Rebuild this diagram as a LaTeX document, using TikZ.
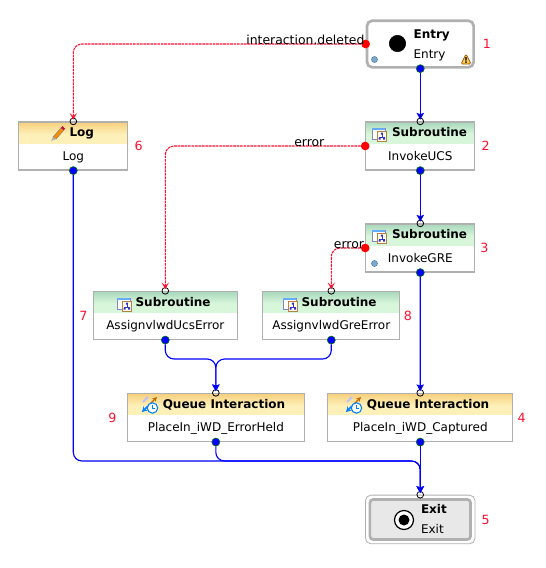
\documentclass[tikz,border=0pt]{standalone}
\usepackage{fontspec}
\setmainfont{DejaVu Sans}
\usepackage{xcolor}
\usetikzlibrary{positioning, arrows.meta}
\definecolor{boxgray}{HTML}{B0B0B0}
\definecolor{flowblue}{HTML}{0000FF}
\definecolor{errred}{HTML}{FF1030}
\definecolor{subtop}{HTML}{A8D8BC}
\definecolor{subbot}{HTML}{D8F6DA}
\definecolor{qtop}{HTML}{F6CF7C}
\definecolor{qbot}{HTML}{FDF0B8}
\definecolor{dotblue}{HTML}{7FA9CC}
\definecolor{dotedge}{HTML}{4A7CA8}
\tikzset{
    headed/.style n args={3}{draw=boxgray, line width=0.9pt, fill=white, inner sep=0pt,
        minimum width=#1, minimum height=36pt,
        path picture={\fill[#3]
            (path picture bounding box.north west) rectangle
            ([yshift=-16.5pt]path picture bounding box.north east);
            \shade[top color=#2, bottom color=#3]
            (path picture bounding box.north west) rectangle
            ([yshift=-9pt]path picture bounding box.north east);}},
    startbox/.style={draw=boxgray, line width=2pt, fill=white, rounded corners=4pt,
        minimum width=80pt, minimum height=35pt, inner sep=0pt},
    exitbox/.style={draw=boxgray, line width=0.6pt, fill=white, rounded corners=4pt,
        minimum width=82pt, minimum height=36.5pt, inner sep=0pt},
    exitcore/.style={draw=boxgray, line width=2pt, fill=black!9, rounded corners=2.5pt,
        minimum width=75.5pt, minimum height=30pt, inner sep=0pt},
    titletext/.style={font=\fontsize{9}{10}\selectfont\bfseries, anchor=base west, inner sep=0pt},
    bodytext/.style={font=\fontsize{9}{10}\selectfont, anchor=base, inner sep=0pt},
    numtext/.style={font=\fontsize{9.5}{10}\selectfont, text=errred, inner sep=0pt},
    edgetext/.style={font=\fontsize{9.3}{10}\selectfont, inner sep=0pt},
    inport/.style={circle, draw=black, line width=0.6pt, minimum size=5pt, inner sep=0pt},
    outport/.style={circle, draw=green!45!black, fill=flowblue, line width=0.45pt, minimum size=6pt, inner sep=0pt},
    errport/.style={circle, fill=red, minimum size=6.5pt, inner sep=0pt},
    flow/.style={draw=flowblue, line width=0.85pt, -{Stealth[length=5pt,width=5.5pt,inset=0.8pt]}, shorten >=-1.5pt, rounded corners=6.5pt},
    errflow/.style={draw=errred, line width=0.8pt, dash pattern=on 2pt off 0.6pt, -{Stealth[length=5pt,width=5.5pt,inset=2.4pt]}, shorten >=-1.5pt, rounded corners=6.5pt},
    pics/subicon/.style={code={
        \draw[blue!35!gray!70, fill=white, line width=0.5pt] (-7,-5) rectangle (6,6);
        \fill[blue!55!cyan!60] (-7,-5) rectangle (6,-3);
        \draw[orange!45!gray, fill=yellow!8, line width=0.6pt] (-2,-2) rectangle (7.5,8);
        \draw[blue!60!gray, line width=0.35pt] (2.75,0.5) -- (2.75,4) (0.5,5) -- (0.5,4) -- (5,4) -- (5,5);
        \fill[blue!60!gray] (1.75,-0.5) rectangle (3.75,1.5) (-0.5,4.5) rectangle (1.5,6.5) (4,4.5) rectangle (6,6.5);
    }},
    pics/penicon/.style={code={
        \fill[orange!90!yellow, draw=gray, line width=0.4pt] (-5,4) -- (3,-5) -- (6,-3) -- (-2,6) -- cycle;
        \fill[red!80!blue] (3,-5) -- (4.5,-7) -- (7,-4.5) -- (6,-3) -- cycle;
        \fill[gray!60] (-5,4) -- (-7,8) -- (-2,6) -- cycle;
    }},
    pics/queueicon/.style={code={
        \draw[blue!25, line width=1.5pt] (-7,-3) -- (-2,-8);
        \draw[orange!80!black, line width=1pt, -{Stealth[length=3.5pt,width=3.5pt]}] (0,-1) -- (7,-8);
        \draw[blue!50!cyan, line width=1.2pt, {Stealth[length=4pt,width=4.5pt]}-] (-8,7) -- (-2,1);
        \draw[blue!50!cyan, fill=white, line width=0.8pt] (2.5,3) circle (5.2);
        \draw[blue!50!cyan, line width=0.5pt] (2.5,0) -- (2.5,3) -- (5,3);
    }},
    pics/warnicon/.style={code={
        \fill[yellow!50!orange!70, draw=orange!60!black, line width=0.5pt, rounded corners=1pt] (0,-5) -- (5,5) -- (-5,5) -- cycle;
        \fill[black!75] (-0.8,-2) rectangle (0.8,1.5) (-0.8,2.3) rectangle (0.8,3.9);
    }},
}
\begin{document}
\begin{tikzpicture}[x=0.75pt, y=-0.75pt, on grid]
    \useasboundingbox (0,0) rectangle (546,568);
    % boxes
    \node[startbox] (entry) at (420.3,44) {};
    \node[headed={81.75pt}{subtop}{subbot}] (ucs) [below=76.5pt of entry] {};
    \node[headed={81.75pt}{subtop}{subbot}] (gre) [below=76.5pt of ucs] {};
    \node[headed={81.75pt}{qtop}{qbot}] (log) [left=260.25pt of ucs] {};
    \node[headed={108pt}{subtop}{subbot}] (ucserr) [below left=50.6pt and 191.25pt of gre] {};
    \node[headed={102.75pt}{subtop}{subbot}] (greerr) [right=124.5pt of ucserr] {};
    \node[headed={132.75pt}{qtop}{qbot}] (held) [below right=76.5pt and 37.9pt of ucserr] {};
    \node[headed={138.75pt}{qtop}{qbot}] (captured) [right=153.3pt of held] {};
    \node[exitbox] (exit) [below=76.5pt of captured] {};
    \node[exitcore] (exitface) at (exit) {};

    % titles and names
    \node[titletext] (entryt) at ([shift={(-5.25pt,-14.5pt)}]entry.north) {Entry};
    \node[bodytext, anchor=base west] (entryb) at ([shift={(-5.25pt,-29.3pt)}]entry.north) {Entry};
    \node[titletext] (ucst) at ([shift={(-21.4pt,-11.5pt)}]ucs.north) {Subroutine};
    \node[bodytext] (ucsb) at ([yshift=-29pt]ucs.north) {InvokeUCS};
    \node[titletext] (gret) at ([shift={(-21.4pt,-11.5pt)}]gre.north) {Subroutine};
    \node[bodytext] (greb) at ([yshift=-29pt]gre.north) {InvokeGRE};
    \node[titletext] (logt) at ([shift={(-3pt,-11.5pt)}]log.north) {Log};
    \node[bodytext] (logb) at ([yshift=-29pt]log.north) {Log};
    \node[titletext] (ucserrt) at ([shift={(-22.5pt,-11.5pt)}]ucserr.north) {Subroutine};
    \node[bodytext] (ucserrb) at ([yshift=-29pt]ucserr.north) {AssignvlwdUcsError};
    \node[titletext] (greerrt) at ([shift={(-22.5pt,-11.5pt)}]greerr.north) {Subroutine};
    \node[bodytext] (greerrb) at ([yshift=-29pt]greerr.north) {AssignvlwdGreError};
    \node[titletext] (heldt) at ([shift={(-40pt,-11.5pt)}]held.north) {Queue Interaction};
    \node[bodytext] (heldb) at ([yshift=-29pt]held.north) {PlaceIn\_iWD\_ErrorHeld};
    \node[titletext] (capturedt) at ([shift={(-40.2pt,-11.5pt)}]captured.north) {Queue Interaction};
    \node[bodytext] (capturedb) at ([yshift=-29pt]captured.north) {PlaceIn\_iWD\_Captured};
    \node[titletext] (exitt) at ([shift={(0.4pt,-13.7pt)}]exit.north) {Exit};
    \node[bodytext, anchor=base west] (exitb) at ([shift={(0.4pt,-29.3pt)}]exit.north) {Exit};

    % icons
    \draw[black, fill=black] (397.5,43.5) circle (8.2);
    \draw[black, fill=white, line width=0.9pt] (404,520) circle (9.5);
    \fill[black] (404,520) circle (5.5);
    \fill[dotblue, draw=dotedge, line width=0.4pt] (374.5,59.5) circle (3);
    \fill[dotblue, draw=dotedge, line width=0.4pt] (374.5,263.5) circle (3);
    \pic at (466,59) {warnicon};
    \pic at (379,133) {subicon};
    \pic at (379,235) {subicon};
    \pic at (124,303) {subicon};
    \pic at (290,303) {subicon};
    \pic at (58,133) {penicon};
    \pic at (150,405) {queueicon};
    \pic at (354,405) {queueicon};

    % numbers
    \node[numtext] (n1) [right=50pt of entry] {1};
    \node[numtext] (n2) [right=49pt of ucs] {2};
    \node[numtext] (n3) [right=48pt of gre] {3};
    \node[numtext] (n4) [right=76pt of captured] {4};
    \node[numtext] (n5) [right=49pt of exit] {5};
    \node[numtext] (n6) [right=49pt of log] {6};
    \node[numtext] (n7) [left=61.5pt of ucserr] {7};
    \node[numtext] (n8) [right=57.5pt of greerr] {8};
    \node[numtext] (n9) [left=77.5pt of held] {9};

    % connectors
    \foreach \name in {ucs, gre, log, ucserr, greerr, held, captured, exit}
        \node[inport] (\name in) at (\name.north) {};
    \foreach \name in {entry, ucs, gre, log, ucserr, greerr, held, captured}
        \node[outport] (\name out) at (\name.south) {};
    \node[errport] (entryfail) at (entry.west) {};
    \node[errport] (ucsfail) at (ucs.west) {};
    \node[errport] (grefail) at (gre.west) {};
    \coordinate (exitjoin) at (exitin |- 0,461);
    \coordinate (heldjoin) at (heldin |- 0,359);
    \path[flow]
        (entryout) edge (ucsin)
        (ucsout) edge (grein)
        (greout) edge (capturedin)
        (capturedout) edge (exitin);
    \draw[flow] (logout) |- (exitjoin) -- (exitin);
    \draw[flow] (heldout) |- (exitjoin) -- (exitin);
    \draw[flow] (ucserrout) |- (heldjoin) -- (heldin);
    \draw[flow] (greerrout) |- (heldjoin) -- (heldin);
    \draw[errflow] (entryfail) -| (login);
    \draw[errflow] (ucsfail) -| (ucserrin);
    \draw[errflow] (grefail) -| (greerrin);

    % connector labels
    \node[edgetext, anchor=base east] (entrylabel) at ([xshift=-0.75pt]entryfail.center) {interaction.deleted};
    \node[edgetext, anchor=base east] (ucslabel) at ([xshift=-30.5pt]ucsfail.center) {error};
    \node[edgetext, anchor=base east] (grelabel) at ([xshift=-0.75pt]grefail.center) {error};
\end{tikzpicture}
\end{document}
